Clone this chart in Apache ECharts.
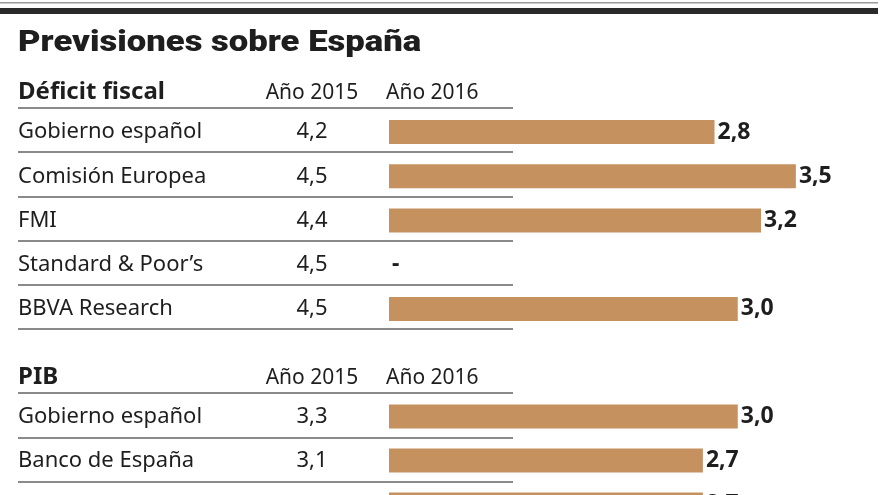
<!DOCTYPE html>
<html>
<head>
<meta charset="utf-8">
<script src="https://cdn.jsdelivr.net/npm/echarts@6/dist/echarts.min.js"></script>
<style>html,body{margin:0;padding:0;background:#fff}#c{width:880px;height:495px}</style>
</head>
<body>
<div id="c"></div>
<script>
const mainTitle = 'Previsiones sobre España';
const sectionTitles = ['Déficit fiscal', 'PIB'];
const columnHeaders = ['Año 2015', 'Año 2016'];

const deficitCategories = ['Gobierno español', 'Comisión Europea', 'FMI', 'Standard & Poor’s', 'BBVA Research'];
const deficit2015 = [4.2, 4.5, 4.4, 4.5, 4.5];
const deficit2016 = [2.8, 3.5, 3.2, null, 3.0];

const pibCategories = ['Gobierno español', 'Banco de España', 'Comisión Europea'];
const pib2015 = [3.3, 3.1, 3.1];
const pib2016 = [3.0, 2.7, 2.7];

const FONT = '"Noto Sans", sans-serif';
const BAR = '#C4915F';
const INK = '#1e1e1e';
const RULE = '#8a8a8a';

function fmt(v) { return v == null ? '-' : v.toFixed(1).replace('.', ','); }

function barData(arr) {
  return arr.map(v => v == null
    ? { value: 0, itemStyle: { color: 'rgba(0,0,0,0)' }, label: { formatter: '-' } }
    : v);
}

function linesAxis(gridIndex, cats) {
  return {
    type: 'category', gridIndex, inverse: true, data: cats,
    axisLine: { show: false }, axisTick: { show: false }, axisLabel: { show: false },
    splitLine: { show: true, lineStyle: { color: RULE, width: 2 } }
  };
}
function barsAxis(gridIndex, cats, vals2015) {
  return {
    type: 'category', gridIndex, inverse: true, data: cats,
    axisLine: { show: false }, axisTick: { show: false }, splitLine: { show: false },
    axisLabel: {
      margin: 371, align: 'left', color: INK,
      formatter: (value, idx) => '{n|' + value + '}{v|' + fmt(vals2015[idx]) + '}',
      rich: {
        n: { width: 250, fontSize: 22, fontFamily: FONT, color: INK },
        v: { width: 88, align: 'center', fontSize: 22, fontFamily: FONT, color: INK }
      }
    }
  };
}
function valAxis(gridIndex) {
  return { type: 'value', gridIndex, min: 0, max: 4, show: false, splitLine: { show: false } };
}
function barSeries(idx, arr) {
  return {
    type: 'bar', xAxisIndex: idx, yAxisIndex: idx, barWidth: 24,
    itemStyle: { color: BAR },
    label: {
      show: true, position: 'right', distance: 3, formatter: p => fmt(p.value),
      fontFamily: FONT, fontWeight: 'bold', fontSize: 23, color: INK
    },
    data: barData(arr)
  };
}

const chart = echarts.init(document.getElementById('c'), null, { renderer: 'canvas' });
chart.setOption({
  animation: false,
  backgroundColor: '#fff',
  grid: [
    { left: 18, width: 495, top: 108, height: 221, outerBoundsMode: 'none' },
    { left: 389, width: 465, top: 110, height: 221, outerBoundsMode: 'none' },
    { left: 18, width: 495, top: 393, height: 133.5, outerBoundsMode: 'none' },
    { left: 389, width: 465, top: 394.5, height: 132, outerBoundsMode: 'none' }
  ],
  xAxis: [valAxis(0), valAxis(1), valAxis(2), valAxis(3)],
  yAxis: [
    linesAxis(0, deficitCategories),
    barsAxis(1, deficitCategories, deficit2015),
    linesAxis(2, pibCategories),
    barsAxis(3, pibCategories, pib2015)
  ],
  series: [barSeries(1, deficit2016), barSeries(3, pib2016)],
  graphic: [
    { type: 'rect', shape: { x: 0, y: 2, width: 878, height: 1.5 }, style: { fill: '#9a9a9a' } },
    { type: 'rect', shape: { x: 0, y: 8, width: 878, height: 6 }, style: { fill: '#2a2a2a' } },
    { type: 'text', x: 18, y: 43, scaleX: 1.155, originX: 0, style: { text: mainTitle, font: '900 30px Roboto', fill: INK, verticalAlign: 'middle' } },
    { type: 'text', x: 18, y: 92, style: { text: sectionTitles[0], font: 'bold 24px ' + FONT, fill: INK, verticalAlign: 'middle' } },
    { type: 'text', x: 312, y: 93, style: { text: columnHeaders[0], font: '21px ' + FONT, fill: INK, align: 'center', verticalAlign: 'middle' } },
    { type: 'text', x: 386, y: 93, style: { text: columnHeaders[1], font: '21px ' + FONT, fill: INK, verticalAlign: 'middle' } },
    { type: 'text', x: 18, y: 377, style: { text: sectionTitles[1], font: 'bold 24px ' + FONT, fill: INK, verticalAlign: 'middle' } },
    { type: 'text', x: 312, y: 378, style: { text: columnHeaders[0], font: '21px ' + FONT, fill: INK, align: 'center', verticalAlign: 'middle' } },
    { type: 'text', x: 386, y: 378, style: { text: columnHeaders[1], font: '21px ' + FONT, fill: INK, verticalAlign: 'middle' } }
  ]
});
</script>
</body>
</html>
